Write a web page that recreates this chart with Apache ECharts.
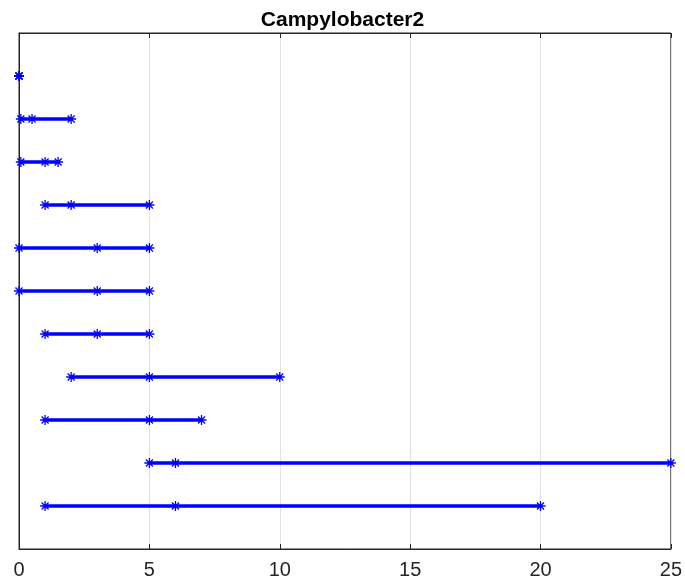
<!DOCTYPE html>
<html>
<head>
<meta charset="utf-8">
<script src="https://cdn.jsdelivr.net/npm/echarts@6/dist/echarts.min.js"></script>
<style>html,body{margin:0;padding:0;background:#fff}#c{width:685px;height:582px}</style>
</head>
<body>
<div id="c"></div>
<script>
// Row positions (bottom = 1, top = 11)
const rows = [1, 2, 3, 4, 5, 6, 7, 8, 9, 10, 11];
// Per-row values: minimum, middle, maximum
const minVals = [1, 5, 1, 2, 1, 0, 0, 1, 0.07, 0.07, 0];
const midVals = [6, 6, 5, 5, 3, 3, 3, 2, 1, 0.5, 0];
const maxVals = [20, 25, 7, 10, 5, 5, 5, 5, 1.5, 2, 0];
const xTicks = [0, 5, 10, 15, 20, 25];
const titleText = 'Campylobacter2';

const star = 'path://M0 5L10 5M5 0L5 10M1.5 1.5L8.5 8.5M1.5 8.5L8.5 1.5';
const axisColor = '#262626';

const series = rows.map((r, i) => ({
  type: 'line',
  xAxisIndex: 0,
  yAxisIndex: 0,
  data: [[minVals[i], r], [midVals[i], r], [maxVals[i], r]],
  symbol: star,
  symbolSize: 10,
  showAllSymbol: true,
  lineStyle: { color: '#0000ff', width: 3.5 },
  itemStyle: { color: '#0000ff', borderColor: '#0000ff', borderWidth: 1.3 },
  emphasis: { disabled: true },
  animation: false,
  z: 5
}));

const chart = echarts.init(document.getElementById('c'), null, { renderer: 'canvas' });
chart.setOption({
  animation: false,
  backgroundColor: '#ffffff',
  title: {
    text: titleText,
    left: 'center',
    top: 5,
    textStyle: { fontFamily: 'Liberation Sans, Arial, sans-serif', fontWeight: 'bold', fontSize: 21, color: '#000' }
  },
  grid: { left: 19, right: 11, top: 33, bottom: 33, show: true, borderColor: axisColor, borderWidth: 1, backgroundColor: 'transparent' },
  xAxis: [{
    type: 'value', min: xTicks[0], max: xTicks[xTicks.length - 1], interval: 5,
    position: 'bottom',
    axisLine: { show: true, lineStyle: { color: axisColor, width: 1 } },
    axisTick: { show: true, inside: true, length: 5, lineStyle: { color: axisColor } },
    axisLabel: { color: axisColor, fontSize: 20, fontFamily: 'Liberation Sans, Arial, sans-serif', margin: 11 },
    splitLine: { show: true, lineStyle: { color: '#e3e3e3', width: 1 } }
  }, {
    type: 'value', min: xTicks[0], max: xTicks[xTicks.length - 1], interval: 5,
    position: 'top',
    axisLine: { show: true, lineStyle: { color: axisColor, width: 1 } },
    axisTick: { show: true, inside: true, length: 5, lineStyle: { color: axisColor } },
    axisLabel: { show: false },
    splitLine: { show: false }
  }],
  yAxis: [{
    type: 'value', min: 0, max: 12,
    axisLine: { show: true, onZero: false, lineStyle: { color: axisColor, width: 1 } },
    axisTick: { show: false },
    axisLabel: { show: false },
    splitLine: { show: false }
  }],
  series: series
});
</script>
</body>
</html>
